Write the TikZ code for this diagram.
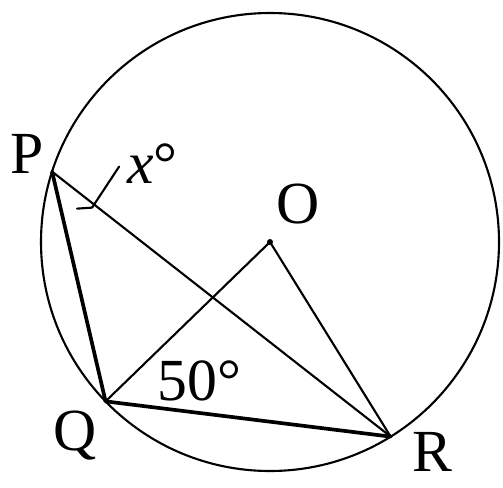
\documentclass[tikz,border=0pt]{standalone}
\usepackage{fontspec}
\setmainfont{Liberation Serif}
\usetikzlibrary{calc}
\tikzset{
  chord/.style ={line width=1.2pt, line cap=round, line join=round},
  heavy/.style ={line width=2.1pt, line cap=round, line join=round},
  lbl/.style   ={font=\fontsize{34}{38}\selectfont, inner sep=0pt, anchor=base west},
}
\begin{document}
\begin{tikzpicture}[x=0.02cm, y=-0.02cm]
  \useasboundingbox (0,0) rectangle (503,487);
  % circle and points on it
  \coordinate (O) at (270,242);
  \draw[chord] (O) circle[radius=229];
  \coordinate (P) at ($(O)+(197.9:229)$);
  \coordinate (Q) at ($(O)+(135.9:229)$);
  \coordinate (R) at ($(O)+(58.2:229)$);
  % chords and radii
  \draw[heavy] (P) -- (Q) -- (R);
  \draw[chord] (P) -- (R);
  \draw[chord] (Q) -- (O) -- (R);
  \fill (O) circle[radius=3];
  % angle mark at P
  \draw[chord] ($(P)+(25,37)$) -- ($(P)+(40,36)$) -- ($(P)+(67,-5)$);
  % labels
  \node[lbl] (lP) at (10,173) {P};
  \node[lbl] (lO) at (276,223) {O};
  \node[lbl] (lQ) at (53,450) {Q};
  \node[lbl] (lR) at (412,471) {R};
  \node[lbl] (lx) at (127,183) {\textit{x}°};
  \node[lbl] (l50) at (157,400) {50°};
\end{tikzpicture}
\end{document}
